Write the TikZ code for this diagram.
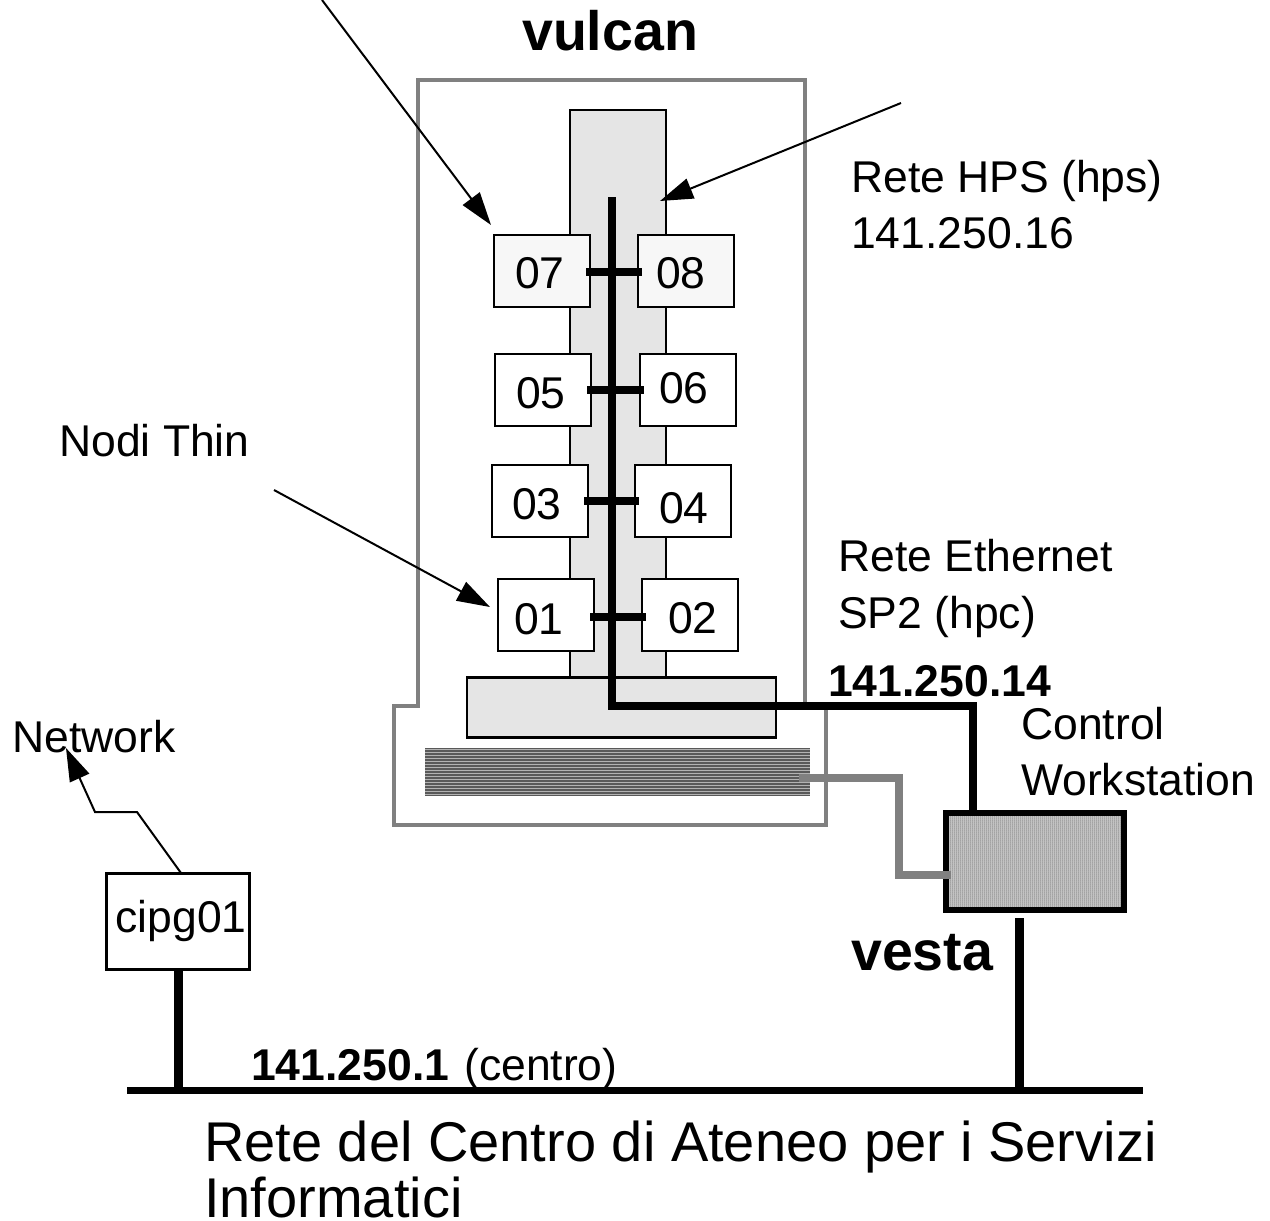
\documentclass[tikz,border=0pt]{standalone}
\usepackage{fontspec}
\setmainfont{Liberation Sans}
\usetikzlibrary{arrows.meta,positioning,patterns.meta}
\tikzset{
  txt/.style={anchor=base west,inner sep=0pt,font=\fontsize{44.5}{44.5}\selectfont},
  txtbold/.style={anchor=base west,inner sep=0pt,font=\fontsize{44.5}{44.5}\selectfont\bfseries},
  txtbig/.style={anchor=base west,inner sep=0pt,font=\fontsize{56}{56}\selectfont},
  namebold/.style={anchor=base west,inner sep=0pt,font=\fontsize{55.5}{55.5}\selectfont\bfseries},
  numtxt/.style={inner sep=0pt,font=\fontsize{44.5}{44.5}\selectfont},
  nodebox/.style={draw,line width=2.6pt,outer sep=0pt,inner sep=0pt,minimum width=96pt,minimum height=72pt},
  tower/.style={draw,line width=2.6pt,outer sep=0pt,inner sep=0pt,fill=black!10},
  net/.style={line width=8.5pt},
  arr/.style={line width=2pt,-{Triangle[length=33pt,width=21pt]}}
}
\begin{document}
\begin{tikzpicture}[x=1pt,y=-1pt]
\useasboundingbox (0,0) rectangle (1270,1221);
\draw[black!50,line width=4pt] (418,80)--(805,80)--(805,708)--(826,708)--(826,825)--(394,825)--(394,706)--(418,706)--cycle;
\node[tower,minimum width=96pt,minimum height=567pt] (column) at (618,393.5) {};
\node[tower,minimum width=309pt,minimum height=60pt] (base) at (621.5,707.5) {};
\fill[black!65] (425,748) rectangle (810,796);
\foreach \y in {749,752,...,795}{\draw[black!30,line width=1pt] (425,\y)--(810,\y);}
\foreach \n/\x/\y/\c/\tx/\ty in {07/542/271/black!3/540/273,08/686/271/black!3/681/273,05/543/390/white/541/393,06/688/390/white/684/388,03/540/501/white/537/504,04/683/501/white/684/508,01/546/615/white/539/619,02/690/615/white/693/618}{
  \node[nodebox,fill=\c] (n\n) at (\x,\y) {};
  \node[numtxt] (t\n) at (\tx,\ty) {\n};
}
\foreach \a/\b/\y in {07/08/272,05/06/390,03/04/501,01/02/617}{
  \coordinate (barl\a) at (n\a.east |- 0,\y);
  \coordinate (barr\a) at (n\b.west |- 0,\y);
  \draw[line width=8pt] ([xshift=-4pt]barl\a)--([xshift=4pt]barr\a);
}
\node[draw,line width=6pt,outer sep=0pt,inner sep=0pt,fill=black!12,postaction={pattern={Dots[distance=2pt,radius=0.75pt]},pattern color=black!60},minimum width=178pt,minimum height=97pt] (vesta) at (1035,861.5) {};
\draw[line width=6pt] (vesta.south west) rectangle (vesta.north east);
\coordinate (hpstop) at (612,197);
\coordinate (hpsmid) at (612,706);
\coordinate (hpsend) at (973,706);
\draw[net,line cap=butt] (hpstop)--(hpsmid)--(hpsend)--(hpsend |- vesta.north);
\coordinate (lanstart) at (799,778);
\draw[black!50,line width=8pt] (lanstart)--(899,778)--(899,875)--(951,875);
\node[draw,line width=3pt,outer sep=0pt,inner sep=0pt,minimum width=143pt,minimum height=96pt] (cipg) at (178,921) {};
\node[numtxt] (cipgtxt) at (181,921) {cipg01};
\coordinate (busl) at (127,1090);
\coordinate (busr) at (1143,1090);
\draw[line width=7pt] (busl)--(busr);
\draw[line width=9pt] (cipg.south)--(cipg.south |- busl);
\coordinate (vestadrop) at (1019,918);
\draw[line width=9pt] (vestadrop)--(vestadrop |- busl);
\coordinate (a1) at (322,0);
\coordinate (a1tip) at (491,225);
\draw[arr] (a1)--(a1tip);
\coordinate (a2) at (901,103);
\coordinate (a2tip) at (660,201);
\draw[arr] (a2)--(a2tip);
\coordinate (a3) at (274,490);
\coordinate (a3tip) at (490,607);
\draw[arr] (a3)--(a3tip);
\coordinate (a4) at (137,812);
\coordinate (a5) at (95,812);
\coordinate (a4tip) at (66,748);
\draw[arr] (cipg.north)++(3,0)--(a4)--(a5)--(a4tip);
\node[namebold] (vulcan) at (522,50) {vulcan};
\node[namebold] (vestalab) at (851,970) {vesta};
\node[txt] (hps) at (851,192) {Rete HPS (hps)};
\node[txt] (hpsnum) at (851,248) {141.250.16};
\node[txt] (eth) at (838,571) {Rete Ethernet};
\node[txt] (sp2) at (838,628) {SP2 (hpc)};
\node[txtbold] (ethnum) at (828,696) {141.250.14};
\node[txt] (cw1) at (1021,739) {Control};
\node[txt] (cw2) at (1021,795) {Workstation};
\node[txt] (thin) at (59,456) {Nodi Thin};
\node[txt] (network) at (12,752) {Network};
\node[txtbold] (centronum) at (251,1080) {141.250.1};
\node[txt] (centro) at (464,1080) {(centro)};
\node[txtbig] (rete1) at (204,1161) {Rete del Centro di Ateneo per i Servizi};
\node[txtbig] (rete2) at (204,1217) {Informatici};
\end{tikzpicture}
\end{document}
